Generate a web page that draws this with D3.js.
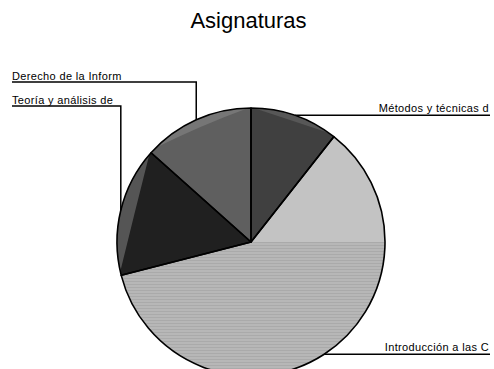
<!DOCTYPE html>
<html>
<head>
<meta charset="utf-8">
<script src="https://cdn.jsdelivr.net/npm/d3@7"></script>
<style>
  body { margin: 0; background: #fff; }
  text { font-family: "Liberation Sans", Arial, sans-serif; }
</style>
</head>
<body>
<script>
// Share of each subject (percent), clockwise from 12 o'clock
const categories = ["Métodos y técnicas d", "Introducción a las C", "Teoría y análisis de", "Derecho de la Inform"];
const values = [10.6, 60.4, 15.6, 13.4];
const colors = ["#404040", "#b6b6b6", "#202020", "#5f5f5f"];
const title = "Asignaturas";

const W = 494, H = 369;
const cx = 251, cy = 242, R = 134;

const svg = d3.select("body").append("svg")
  .attr("width", W).attr("height", H);

// Fine horizontal hatching used on the large slice
const defs = svg.append("defs");
const pat = defs.append("pattern")
  .attr("id", "hatch").attr("patternUnits", "userSpaceOnUse")
  .attr("width", 6).attr("height", 3);
pat.append("rect").attr("width", 6).attr("height", 3).attr("fill", "#b7b7b7");
pat.append("rect").attr("width", 6).attr("height", 1).attr("fill", "#aaaaaa");

svg.append("text")
  .attr("x", 248.5).attr("y", 28)
  .attr("text-anchor", "middle")
  .style("font-size", "22px")
  .attr("fill", "#000")
  .text(title);

const pie = d3.pie().sort(null).value(d => d);
const arcs = pie(values);
const arc = d3.arc().innerRadius(0).outerRadius(R);

const g = svg.append("g").attr("transform", `translate(${cx},${cy})`);

const pt = (a, r) => [r * Math.sin(a), -r * Math.cos(a)];

// slice fills
g.selectAll("path.slice").data(arcs).join("path")
  .attr("class", "slice")
  .attr("d", arc)
  .attr("fill", (d, i) => i === 1 ? "url(#hatch)" : colors[i]);

// lighter upper portion of the large slice (above the horizontal)
const big = arcs[1];
g.append("path")
  .attr("d", d3.arc().innerRadius(0).outerRadius(R)
    .startAngle(big.startAngle).endAngle(Math.PI / 2)())
  .attr("fill", "#c3c3c3");

// shaded crescents along the rim of the darker slices
function crescent(a0, a1, depth, fill) {
  const [x0, y0] = pt(a0, R), [x1, y1] = pt(a1, R);
  const am = (a0 + a1) / 2;
  const [qx, qy] = pt(am, R - depth * 2);
  const p = d3.path();
  p.moveTo(x0, y0);
  p.arc(0, 0, R, a0 - Math.PI / 2, a1 - Math.PI / 2);
  p.quadraticCurveTo(qx, qy, x0, y0);
  g.append("path").attr("d", p.toString()).attr("fill", fill);
}
const s0 = arcs[0], s2 = arcs[2], s3 = arcs[3];
crescent(s0.startAngle + 0.02, s0.endAngle - 0.05, 3, "#575757");
crescent(s3.startAngle + 0.05, s3.endAngle - 0.02, 3.5, "#767676");
crescent(s2.startAngle + 0.03, s2.endAngle - 0.02, 7, "#555555");

// slice outlines
g.selectAll("path.edge").data(arcs).join("path")
  .attr("class", "edge")
  .attr("d", arc)
  .attr("fill", "none")
  .attr("stroke", "#000")
  .attr("stroke-width", 1.6)
  .attr("stroke-linejoin", "round");

// leader lines and labels
const leftTop = 82, leftGap = 24;
const leftSlices = arcs.map((d, i) => ({ d, i, mid: (d.startAngle + d.endAngle) / 2 }))
  .filter(o => Math.sin(o.mid) < 0)
  .sort((a, b) => b.mid - a.mid);
const leftY = new Map(leftSlices.map((o, k) => [o.i, leftTop + k * leftGap]));

arcs.forEach((d, i) => {
  const mid = (d.startAngle + d.endAngle) / 2;
  const [px, py] = pt(mid, R);
  const x = cx + px, y = cy + py;
  if (Math.sin(mid) >= 0) {
    svg.append("path")
      .attr("d", `M${x},${y}H490`)
      .attr("stroke", "#000").attr("stroke-width", 1.5).attr("fill", "none");
    svg.append("text")
      .attr("x", 489).attr("y", y - 3)
      .attr("text-anchor", "end")
      .style("font-size", "11px")
      .style("letter-spacing", "0.35px")
      .text(categories[i]);
  } else {
    const ly = leftY.get(i);
    svg.append("path")
      .attr("d", `M${x},${y}V${ly}H12`)
      .attr("stroke", "#000").attr("stroke-width", 1.5).attr("fill", "none");
    svg.append("text")
      .attr("x", 12).attr("y", ly - 2)
      .style("font-size", "11px")
      .style("letter-spacing", "0.35px")
      .text(categories[i]);
  }
});
</script>
</body>
</html>
